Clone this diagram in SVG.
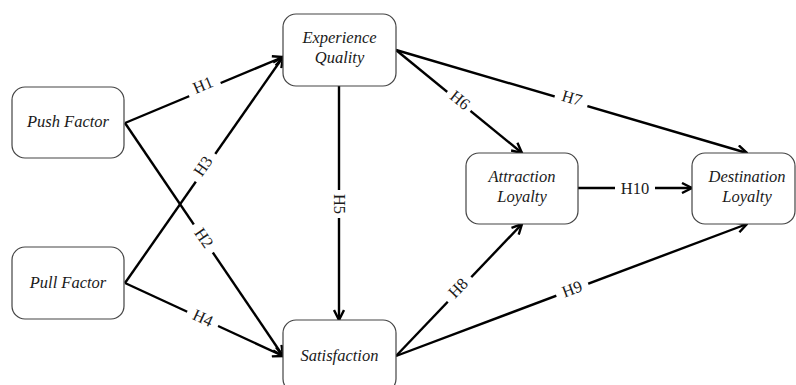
<svg xmlns="http://www.w3.org/2000/svg" width="796" height="385" viewBox="0 0 796 385">
<defs>
<style>
.box{fill:#fff;stroke:#444;stroke-width:1.2}
.nt{font-family:'Liberation Serif','Times New Roman',serif;font-style:italic;font-size:16.5px;fill:#1a1a1a;text-anchor:middle}
.ln{stroke:#000;stroke-width:2.4;fill:none;marker-end:url(#ah)}
.lb{font-family:'Liberation Serif','Times New Roman',serif;font-size:16.5px;fill:#1a1a1a;text-anchor:middle;dominant-baseline:central}
.lbg{fill:#fff}
</style>
<marker id="ah" viewBox="0 0 12 12" refX="11" refY="6" markerWidth="12" markerHeight="12" markerUnits="userSpaceOnUse" orient="auto">
<path d="M1,1 L11,6 L1,11" fill="none" stroke="#000" stroke-width="2.4"/>
</marker>
</defs>
<rect width="796" height="385" fill="#fff"/>
<g id="connectors">
<line class="ln" x1="125" y1="123" x2="283" y2="57"/>
<line class="ln" x1="125" y1="283" x2="283" y2="57"/>
<line class="ln" x1="125" y1="123" x2="283" y2="356"/>
<line class="ln" x1="125" y1="283" x2="283" y2="356"/>
<line class="ln" x1="339" y1="86" x2="339" y2="320"/>
<line class="ln" x1="396" y1="50" x2="522" y2="153"/>
<line class="ln" x1="396" y1="50" x2="747" y2="153"/>
<line class="ln" x1="396" y1="356" x2="522" y2="224"/>
<line class="ln" x1="396" y1="356" x2="747" y2="224"/>
<line class="ln" x1="578" y1="188" x2="692" y2="188"/>
<g transform="translate(203,85) rotate(-22.7)"><rect class="lbg" x="-17" y="-8" width="34" height="16"/><text class="lb">H1</text></g>
<g transform="translate(203,166) rotate(-55)"><rect class="lbg" x="-17" y="-8" width="34" height="16"/><text class="lb">H3</text></g>
<g transform="translate(204,238) rotate(56)"><rect class="lbg" x="-17" y="-8" width="34" height="16"/><text class="lb">H2</text></g>
<g transform="translate(203,318) rotate(24.8)"><rect class="lbg" x="-17" y="-8" width="34" height="16"/><text class="lb">H4</text></g>
<g transform="translate(339,204) rotate(90)"><rect class="lbg" x="-14" y="-8" width="28" height="16"/><text class="lb">H5</text></g>
<g transform="translate(460,100) rotate(39)"><rect class="lbg" x="-15" y="-8" width="30" height="16"/><text class="lb">H6</text></g>
<g transform="translate(572,98) rotate(16.4)"><rect class="lbg" x="-17" y="-8" width="34" height="16"/><text class="lb">H7</text></g>
<g transform="translate(458,288) rotate(-46)"><rect class="lbg" x="-17" y="-8" width="34" height="16"/><text class="lb">H8</text></g>
<g transform="translate(572,289) rotate(-20.6)"><rect class="lbg" x="-17" y="-8" width="34" height="16"/><text class="lb">H9</text></g>
<g transform="translate(635,188)"><rect class="lbg" x="-20" y="-8" width="40" height="16"/><text class="lb">H10</text></g>
</g>
<g id="push"><rect class="box" x="12" y="87" width="112" height="71" rx="13"/><text class="nt" x="68" y="127">Push Factor</text></g>
<g id="pull"><rect class="box" x="12" y="247" width="112" height="72" rx="13"/><text class="nt" x="68" y="288">Pull Factor</text></g>
<g id="experience"><rect class="box" x="283" y="14" width="113" height="72" rx="13"/><text class="nt" x="339.5" y="43">Experience</text><text class="nt" x="339.5" y="63">Quality</text></g>
<g id="satisfaction"><rect class="box" x="283" y="320" width="113" height="72" rx="13"/><text class="nt" x="339.5" y="361">Satisfaction</text></g>
<g id="attraction"><rect class="box" x="466" y="153" width="112" height="71" rx="13"/><text class="nt" x="522" y="182">Attraction</text><text class="nt" x="522" y="202">Loyalty</text></g>
<g id="destination"><rect class="box" x="692" y="153" width="103" height="71" rx="13"/><text class="nt" x="747" y="182">Destination</text><text class="nt" x="747" y="202">Loyalty</text></g>
</svg>
